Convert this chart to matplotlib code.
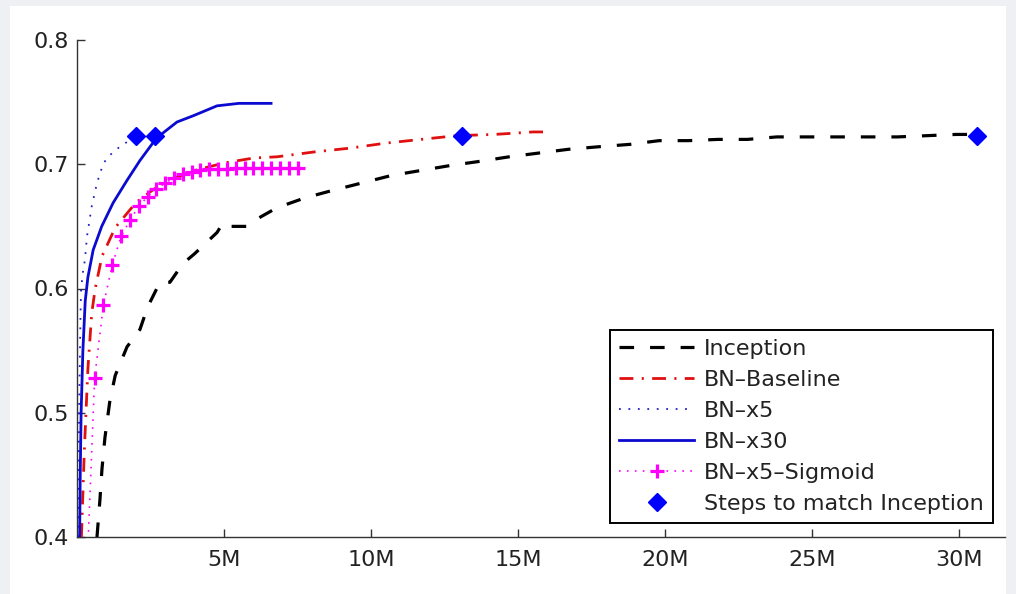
import matplotlib
matplotlib.use("Agg")
import matplotlib.pyplot as plt
from matplotlib.patches import Rectangle
from matplotlib.ticker import FixedLocator, FuncFormatter

plt.rcParams['font.family'] = ['DejaVu Sans']
plt.rcParams['lines.scale_dashes'] = False

# ---- data (x in millions of training steps, y = validation accuracy) ----
inception_x = [0.68, 0.78, 0.85, 0.95, 1.12, 1.3, 1.7, 2.14, 2.4, 2.82, 3.16, 3.6, 4.0, 4.4,
               4.76, 4.97, 5.2, 5.78, 6.2, 6.8, 7.76, 8.7, 9.7, 10.7, 11.7, 12.7, 13.6, 14.7,
               15.7, 16.7, 17.7, 18.8, 19.8, 20.8, 21.8, 22.8, 23.8, 24.8, 25.8, 26.9, 27.9,
               28.9, 29.9, 30.6]
inception_y = [0.40, 0.43, 0.455, 0.48, 0.51, 0.53, 0.553, 0.567, 0.585, 0.605, 0.605, 0.62,
               0.628, 0.637, 0.645, 0.653, 0.65, 0.65, 0.657, 0.665, 0.673, 0.679, 0.685,
               0.691, 0.695, 0.699, 0.702, 0.706, 0.709, 0.712, 0.714, 0.716, 0.719, 0.719,
               0.72, 0.72, 0.722, 0.722, 0.722, 0.722, 0.722, 0.723, 0.724, 0.724]

baseline_x = [0.15, 0.25, 0.37, 0.5, 0.62, 0.85, 1.3, 2.0, 2.5, 3.0, 4.0, 5.0, 6.0, 6.8, 8.1,
              9.3, 10.5, 11.7, 12.9, 14.2, 15.5, 16.0]
baseline_y = [0.40, 0.47, 0.535, 0.58, 0.60, 0.626, 0.649, 0.669, 0.678, 0.686, 0.695, 0.701,
              0.705, 0.706, 0.71, 0.713, 0.717, 0.72, 0.723, 0.724, 0.726, 0.726]

x5_x = [0.05, 0.07, 0.12, 0.14, 0.2, 0.27, 0.34, 0.5, 0.68, 0.9, 1.19, 1.53, 2.0]
x5_y = [0.40, 0.50, 0.58, 0.60, 0.613, 0.623, 0.642, 0.666, 0.685, 0.701, 0.709, 0.7155, 0.722]

x30_x = [0.09, 0.11, 0.14, 0.2, 0.28, 0.37, 0.55, 0.84, 1.23, 1.7, 2.14, 2.7, 3.4, 3.95,
         4.76, 5.5, 6.6]
x30_y = [0.40, 0.45, 0.50, 0.55, 0.59, 0.609, 0.631, 0.65, 0.669, 0.687, 0.703, 0.721,
         0.734, 0.739, 0.747, 0.749, 0.749]

sigmoid_x = [0.3, 0.6, 0.9, 1.2, 1.5, 1.8, 2.1, 2.4, 2.7, 3.0, 3.3, 3.6, 3.9, 4.2, 4.5,
             4.8, 5.1, 5.4, 5.7, 6.0, 6.3, 6.6, 6.9, 7.2, 7.5]
sigmoid_y = [0.35, 0.528, 0.587, 0.619, 0.642, 0.655, 0.666, 0.674, 0.680, 0.685, 0.689,
             0.692, 0.694, 0.695, 0.696, 0.696, 0.696, 0.697, 0.697, 0.697, 0.697, 0.697,
             0.697, 0.697, 0.697]

match_x = [2.0, 2.65, 13.1, 30.6]
match_y = [0.723, 0.723, 0.723, 0.723]

x_ticks = [5, 10, 15, 20, 25, 30]
y_ticks = [0.4, 0.5, 0.6, 0.7, 0.8]

# ---- figure ----
W, H = 1016, 594
fig = plt.figure(figsize=(W / 100, H / 100), dpi=100)
fig.patch.set_facecolor('#eef0f4')
fig.patches.append(Rectangle((10 / W, 0), (1006 - 10) / W, (H - 6) / H,
                             transform=fig.transFigure, facecolor='white',
                             edgecolor='none', zorder=-10))

ax = fig.add_axes([77 / W, (H - 537) / H, (1005 - 77) / W, (537 - 40) / H])
ax.set_facecolor('white')

ax.plot(inception_x, inception_y, color='black', lw=2.3, dashes=(10.5, 11.5),
        label='Inception', zorder=3)
ax.plot(baseline_x, baseline_y, color='#e01010', lw=2.0, dashes=(10, 6, 1.5, 6),
        label='BN\u2013Baseline', zorder=3)
ax.plot(x5_x, x5_y, color='#2020c0', lw=1.3, dashes=(1.3, 5.5),
        label='BN\u2013x5', zorder=3)
ax.plot(x30_x, x30_y, color='#0a0ad0', lw=2.0, label='BN\u2013x30', zorder=4)
ax.plot(sigmoid_x, sigmoid_y, color='#ff00ff', lw=1.2, dashes=(1.2, 4.5),
        marker='+', markersize=10, markeredgewidth=2.3,
        label='BN\u2013x5\u2013Sigmoid', zorder=5)
ax.plot(match_x, match_y, linestyle='none', marker='D', markersize=8.8,
        color='#0000ff', markeredgecolor='#0000ff', label='Steps to match Inception',
        zorder=6)

ax.set_xlim(0, 31.56)
ax.set_ylim(0.4, 0.8)

for s in ['top', 'right']:
    ax.spines[s].set_visible(False)
for s in ['left', 'bottom']:
    ax.spines[s].set_color('#333333')
    ax.spines[s].set_linewidth(1.0)

ax.xaxis.set_major_locator(FixedLocator(x_ticks))
ax.xaxis.set_major_formatter(FuncFormatter(lambda v, p: f'{int(v)}M'))
ax.yaxis.set_major_locator(FixedLocator(y_ticks))
ax.yaxis.set_major_formatter(FuncFormatter(lambda v, p: f'{v:.1f}'))
ax.tick_params(axis='both', direction='in', length=6, width=1.0, color='#333333',
               labelsize=16, labelcolor='#222222')
ax.tick_params(axis='x', pad=9)
ax.tick_params(axis='y', pad=6)

leg = ax.legend(loc='lower right', bbox_to_anchor=(0.987, 0.028), borderaxespad=0,
                fontsize=16, frameon=True, fancybox=False, framealpha=1,
                handlelength=3.4, handletextpad=0.45, labelspacing=0.5,
                borderpad=0.4, numpoints=1)
leg.get_frame().set_edgecolor('black')
leg.get_frame().set_linewidth(1.4)
for t in leg.get_texts():
    t.set_color('#222222')

fig.savefig('out.png', dpi=100, facecolor=fig.get_facecolor())
